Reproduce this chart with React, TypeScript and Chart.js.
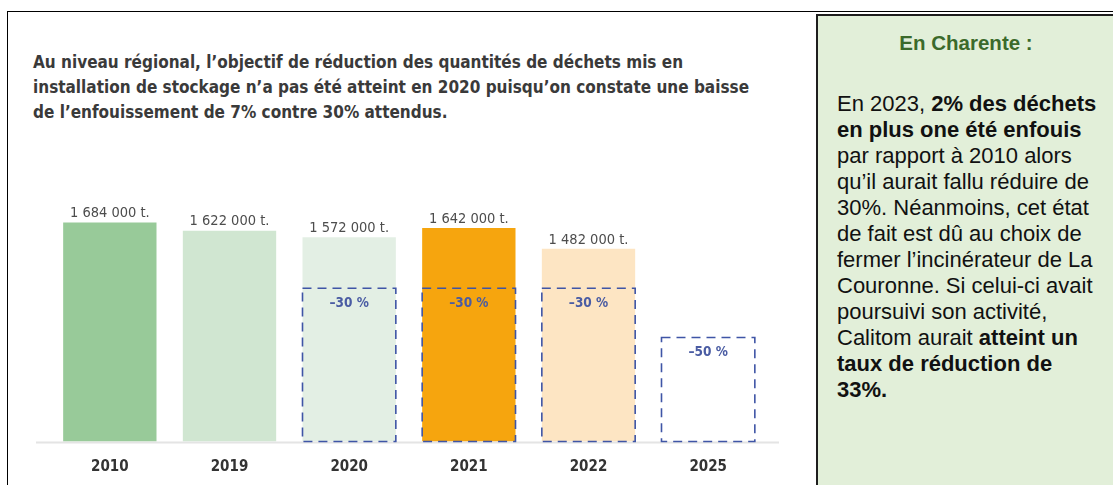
import React, { useEffect, useRef } from "react";
import { Chart, registerables } from "chart.js";

Chart.register(...registerables);

const categories = ["2010", "2019", "2020", "2021", "2022", "2025"];
const tonnages: (number | null)[] = [1684000, 1622000, 1572000, 1642000, 1482000, null];
const targets: (number | null)[] = [null, null, 1178800, 1178800, 1178800, 800000];
const targetLabels: (string | null)[] = [null, null, "–30 %", "–30 %", "–30 %", "–50 %"];
const barColors = ["#98ca99", "#d0e6d1", "#e3efe4", "#f6a50e", "#fde5c3", "rgba(0,0,0,0)"];

const titleLines = [
  "Au niveau régional, l’objectif de réduction des quantités de déchets mis en",
  "installation de stockage n’a pas été atteint en 2020 puisqu’on constate une baisse",
  "de l’enfouissement de 7% contre 30% attendus.",
];

const formatTonnes = (v: number) =>
  v.toString().replace(/\B(?=(\d{3})+(?!\d))/g, " ") + " t.";

const COND = '"DejaVu Sans Condensed", "DejaVu Sans", sans-serif';

const overlayPlugin = {
  id: "overlayPlugin",
  beforeDatasetsDraw(chart: any) {
    const { ctx, chartArea } = chart;
    ctx.save();
    ctx.strokeStyle = "#e4e4e4";
    ctx.lineWidth = 2;
    ctx.beginPath();
    ctx.moveTo(chartArea.left - 14, chartArea.bottom + 1);
    ctx.lineTo(chartArea.right + 11, chartArea.bottom + 1);
    ctx.stroke();
    ctx.restore();
  },
  afterDatasetsDraw(chart: any) {
    const { ctx } = chart;
    const metaV = chart.getDatasetMeta(0);
    ctx.save();
    ctx.font = `14.5px ${COND}`;
    ctx.fillStyle = "#4d4d4d";
    ctx.textAlign = "center";
    ctx.textBaseline = "middle";
    metaV.data.forEach((el: any, i: number) => {
      const v = tonnages[i];
      if (v == null) return;
      const p = el.getProps(["x", "y"], true);
      ctx.fillText(formatTonnes(v), p.x, p.y - 9);
    });
    ctx.restore();

    const metaT = chart.getDatasetMeta(1);
    metaT.data.forEach((el: any, i: number) => {
      if (targets[i] == null) return;
      const p = el.getProps(["x", "y", "width", "base"], true);
      ctx.save();
      ctx.setLineDash([9, 6]);
      ctx.strokeStyle = "#3f55a6";
      ctx.lineWidth = 1.6;
      ctx.strokeRect(p.x - p.width / 2, p.y, p.width, p.base - p.y);
      ctx.restore();
      const lbl = targetLabels[i];
      if (lbl) {
        ctx.save();
        ctx.font = `bold 13.5px ${COND}`;
        ctx.fillStyle = "#4a5ca3";
        ctx.textAlign = "center";
        ctx.textBaseline = "middle";
        ctx.fillText(lbl, p.x, p.y + 15);
        ctx.restore();
      }
    });
  },
};

function BarChart() {
  const ref = useRef<HTMLCanvasElement | null>(null);
  useEffect(() => {
    if (!ref.current) return;
    const chart = new Chart(ref.current, {
      type: "bar",
      data: {
        labels: categories,
        datasets: [
          {
            data: tonnages,
            backgroundColor: barColors,
            borderWidth: 0,
            grouped: false,
            categoryPercentage: 1,
            barPercentage: 0.78,
            order: 2,
          } as any,
          {
            data: targets,
            backgroundColor: "rgba(0,0,0,0)",
            borderWidth: 0,
            grouped: false,
            categoryPercentage: 1,
            barPercentage: 0.78,
            order: 1,
          } as any,
        ],
      },
      options: {
        animation: false,
        responsive: false,
        maintainAspectRatio: false,
        layout: { padding: { left: 30, right: 42, top: 31.5, bottom: 0 } },
        plugins: {
          legend: { display: false },
          tooltip: { enabled: false },
          title: { display: false },
        },
        scales: {
          x: {
            grid: { display: false, drawTicks: false },
            border: { display: false },
            ticks: {
              font: { family: COND, size: 15, weight: "bold" },
              color: "#333333",
              padding: 17,
            },
            afterFit: (scale: any) => {
              scale.height = 43.5;
            },
          },
          y: {
            display: false,
            min: 0,
            max: 2000000,
          },
        },
      },
      plugins: [overlayPlugin],
    });
    return () => chart.destroy();
  }, []);
  return (
    <canvas
      ref={ref}
      width={790}
      height={335}
      style={{ position: "absolute", left: 20, top: 150, width: 790, height: 335 }}
    />
  );
}

export default function App() {
  return (
    <div
      style={{
        position: "absolute",
        left: 0,
        top: 0,
        width: 1113,
        height: 485,
        overflow: "hidden",
        background: "#ffffff",
      }}
    >
      <div
        style={{
          position: "absolute",
          left: 7,
          top: 11,
          width: 1200,
          height: 600,
          borderTop: "1.5px solid #000",
          borderLeft: "1.5px solid #000",
        }}
      />
      <div
        style={{
          position: "absolute",
          left: 33,
          top: 50,
          fontFamily: COND,
          fontWeight: "bold",
          fontSize: 17,
          lineHeight: "25px",
          color: "#3a3a3a",
          whiteSpace: "nowrap",
        }}
      >
        {titleLines.map((l, i) => (
          <div key={i}>{l}</div>
        ))}
      </div>
      <BarChart />
      <div
        style={{
          position: "absolute",
          left: 816,
          top: 14,
          width: 310,
          height: 520,
          boxSizing: "border-box",
          border: "2.5px solid #1e1e1e",
          background: "#e2efd9",
          fontFamily: '"Liberation Sans", Arial, sans-serif',
        }}
      >
        <div
          style={{
            position: "absolute",
            left: 0,
            width: 296,
            top: 15,
            textAlign: "center",
            fontWeight: "bold",
            fontSize: 20.5,
            color: "#3b6a2b",
          }}
        >
          En Charente :
        </div>
        <div
          style={{
            position: "absolute",
            left: 19,
            top: 75,
            fontSize: 22,
            lineHeight: "26px",
            color: "#111",
            whiteSpace: "nowrap",
          }}
        >
          <div>
            En 2023, <b>2% des déchets</b>
          </div>
          <div>
            <b>en plus one été enfouis</b>
          </div>
          <div>par rapport à 2010 alors</div>
          <div>qu’il aurait fallu réduire de</div>
          <div>30%. Néanmoins, cet état</div>
          <div>de fait est dû au choix de</div>
          <div>fermer l’incinérateur de La</div>
          <div>Couronne. Si celui-ci avait</div>
          <div>poursuivi son activité,</div>
          <div>
            Calitom aurait <b>atteint un</b>
          </div>
          <div>
            <b>taux de réduction de</b>
          </div>
          <div>
            <b>33%.</b>
          </div>
        </div>
      </div>
    </div>
  );
}
